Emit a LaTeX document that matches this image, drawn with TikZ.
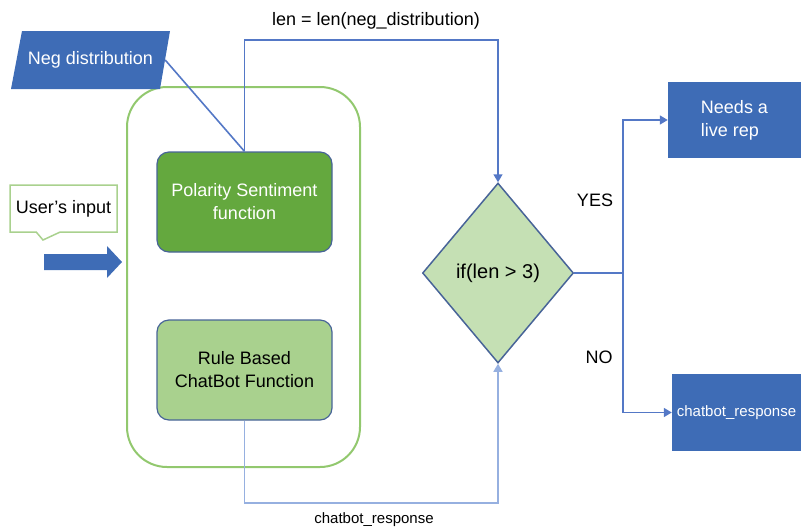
\documentclass[tikz,border=0pt]{standalone}
\usepackage{fontspec}
\setmainfont{Liberation Sans}
\usetikzlibrary{shapes.geometric,shapes.callouts,arrows.meta}
\definecolor{dblue}{RGB}{62,108,182}
\definecolor{lnblue}{RGB}{84,120,198}
\definecolor{lblue}{RGB}{150,176,224}
\definecolor{cgreen}{RGB}{146,200,110}
\definecolor{pgreen}{RGB}{100,168,62}
\definecolor{rgreen}{RGB}{169,209,142}
\definecolor{dgreen}{RGB}{197,224,180}
\definecolor{bord}{RGB}{72,100,152}
\begin{document}
\begin{tikzpicture}[x=1pt,y=-1pt,font=\fontsize{18}{23}\selectfont,
  conn/.style={draw=lnblue,line width=1.6pt},
  tipped/.style={-{Triangle[length=8pt,width=9pt]}},
  bluebox/.style={rectangle,fill=dblue,text=white,inner sep=0pt,align=left},
  gbox/.style={rectangle,rounded corners=12pt,draw=bord,line width=1.2pt,align=center,inner sep=0pt,minimum width=175pt,minimum height=100pt},
  lab/.style={inner sep=0pt}]
\useasboundingbox (0,0) rectangle (801,531);
% container
\node[draw=cgreen,line width=2pt,rounded corners=40pt,minimum width=233pt,minimum height=380pt] (cont) at (243.5,277) {};
% neg distribution (parallelogram)
\fill[dblue] (22,31) -- (170,31) -- (160,89) -- (11,89) -- cycle;
\node[text=white,inner sep=0pt,minimum width=149pt,minimum height=58pt] (neg) at (90.5,60) {Neg distribution};
% function boxes
\node[gbox,fill=pgreen,text=white] (pol) at (244.5,202) {Polarity Sentiment\\function};
\node[gbox,fill=rgreen,text=black] (rule) at (244.5,370) {Rule Based\\ChatBot Function};
% user input
\node[rectangle callout,draw=rgreen,line width=1.5pt,fill=white,minimum width=107pt,minimum height=47pt,inner sep=0pt,callout absolute pointer={(43,240)},callout pointer width=24pt] (user) at (63.5,208.5) {User's input};
\fill[dblue] (44,254) -- (107,254) -- (107,246) -- (122,262) -- (107,278) -- (107,270) -- (44,270) -- cycle;
% decision
\node[diamond,draw=bord,fill=dgreen,line width=1.5pt,minimum width=151pt,minimum height=180pt,inner sep=0pt,font=\fontsize{20}{24}\selectfont] (dia) at (498,273) {if(len > 3)};
% outputs
\node[bluebox,minimum width=133pt,minimum height=76pt] (live) at (734.5,120) {Needs a\\live rep};
\node[bluebox,minimum width=129pt,minimum height=77pt,font=\fontsize{15}{18}\selectfont] (resp) at (736.5,412.5) {chatbot\_response};
% connectors
\coordinate (top) at (0,40);
\coordinate (bot) at (0,503);
\coordinate (split) at (623,273);
\draw[conn] (neg.east) -- (pol.north);
\draw[conn,tipped] (pol.north) -- (pol.north |- top) -| (dia.north);
\draw[conn,draw=lblue,tipped] (rule.south) -- (rule.south |- bot) -| (dia.south);
\draw[conn] (dia.east) -- (split);
\draw[conn,tipped] (split) |- (live.west);
\draw[conn,tipped] (split) |- (resp.west);
% labels
\node[lab] (lenlab) at (376,21) {len = len(neg\_distribution)};
\node[lab,font=\fontsize{15}{18}\selectfont] (botlab) at (374,520) {chatbot\_response};
\node[lab] (yes) at (595,200) {YES};
\node[lab] (no) at (599,357) {NO};
\end{tikzpicture}
\end{document}
